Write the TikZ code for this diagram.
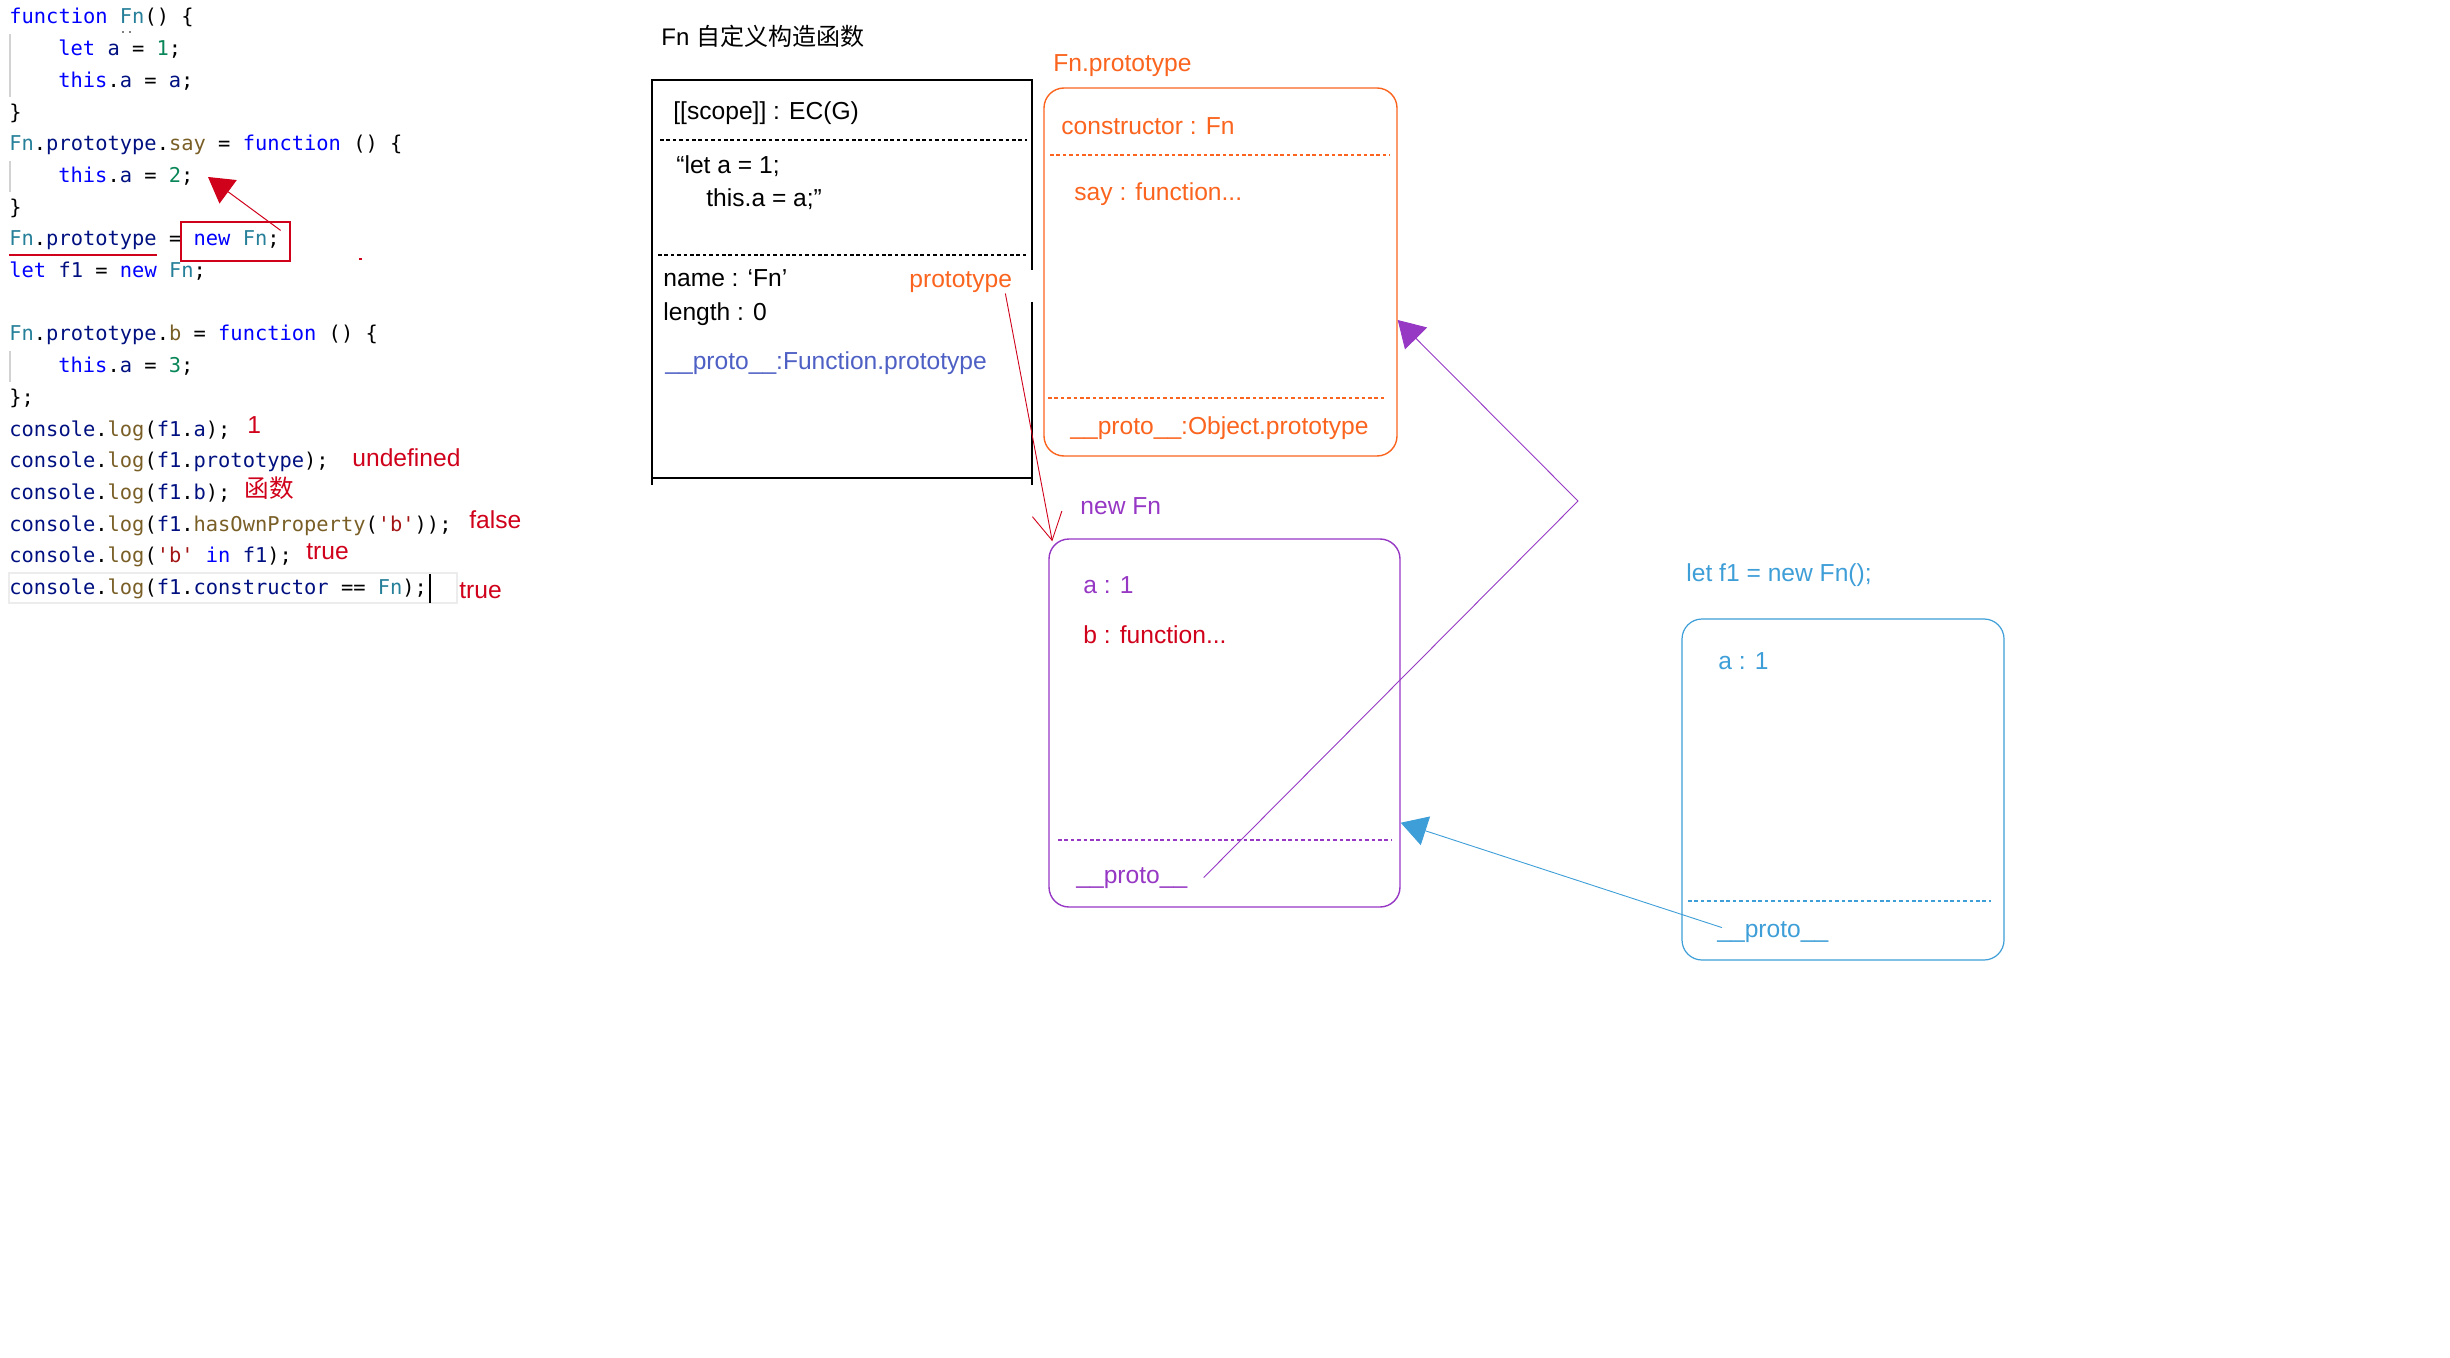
\documentclass[tikz,border=0pt]{standalone}
\usepackage{fontspec}
\setmainfont{Liberation Sans}
\setmonofont{DejaVu Sans Mono}
\newfontfamily\cjk{Noto Sans CJK SC}
\usetikzlibrary{arrows.meta,calc}

\definecolor{jsred}{RGB}{208,2,27}
\definecolor{jsorange}{RGB}{250,100,30}
\definecolor{jspurple}{RGB}{150,56,196}
\definecolor{jsblue}{RGB}{62,158,215}
\definecolor{jsindigo}{RGB}{78,96,196}
\definecolor{kwblue}{RGB}{0,0,255}
\definecolor{tyteal}{RGB}{38,127,153}
\definecolor{varnavy}{RGB}{0,16,128}
\definecolor{funbrown}{RGB}{121,94,38}
\definecolor{numgreen}{RGB}{9,134,88}
\definecolor{strred}{RGB}{163,21,21}

\newcommand\ckw[1]{\textcolor{kwblue}{#1}}
\newcommand\cty[1]{\textcolor{tyteal}{#1}}
\newcommand\cvar[1]{\textcolor{varnavy}{#1}}
\newcommand\cfun[1]{\textcolor{funbrown}{#1}}
\newcommand\cnum[1]{\textcolor{numgreen}{#1}}
\newcommand\cstr[1]{\textcolor{strred}{#1}}
\newcommand\codefont{\fontsize{10.2pt}{12pt}\selectfont\ttfamily}
\newcommand\diagfont{\fontsize{12.3pt}{14pt}\selectfont}

\begin{document}
\begin{tikzpicture}
  [x=0.5pt,y=-0.5pt,
   code/.style={anchor=base west,inner sep=0pt,font=\codefont},
   txt/.style={anchor=base west,inner sep=0pt,font=\diagfont},
   note/.style={txt,text=jsred},
   sep/.style={line width=1.2pt,dash pattern=on 1.8pt off 1.4pt},
   objbox/.style={draw,rounded corners=10pt,line width=0.7pt,inner sep=0pt},
   link/.style={line width=0.45pt}]

  \useasboundingbox (0,0) rectangle (2450,1358);

  % code window
  \draw[gray!15,line width=1pt] (9,573) rectangle (457,603);
  \draw[gray!35,line width=0.8pt] (10,34) -- (10,97);
  \draw[gray!35,line width=0.8pt] (10,161) -- (10,192);
  \draw[gray!35,line width=0.8pt] (10,351) -- (10,382);
  \draw[gray,line width=1pt,dash pattern=on 1pt off 2.5pt] (122,32) -- (134,32);

  \node[code] (l1)  at (9,24)    {\ckw{function} \cty{Fn}() \{};
  \node[code] (l2)  at (58,55.7) {\ckw{let} \cvar{a} = \cnum{1};};
  \node[code] (l3)  at (58,87.4) {\ckw{this}.\cvar{a} = \cvar{a};};
  \node[code] (l4)  at (9,119.1) {\}};
  \node[code] (l5)  at (9,150.8) {\cty{Fn}.\cvar{prototype}.\cfun{say} = \ckw{function} () \{};
  \node[code] (l6)  at (58,182.5) {\ckw{this}.\cvar{a} = \cnum{2};};
  \node[code] (l7)  at (9,214.2) {\}};
  \node[code] (l8)  at (9,245.9) {\cty{Fn}.\cvar{prototype} = \ckw{new} \cty{Fn};};
  \node[code] (l9)  at (9,277.6) {\ckw{let} \cvar{f1} = \ckw{new} \cty{Fn};};
  \node[code] (l11) at (9,341)   {\cty{Fn}.\cvar{prototype}.\cfun{b} = \ckw{function} () \{};
  \node[code] (l12) at (58,372.7) {\ckw{this}.\cvar{a} = \cnum{3};};
  \node[code] (l13) at (9,404.4) {\};};
  \node[code] (l14) at (9,436.1) {\cvar{console}.\cfun{log}(\cvar{f1}.\cvar{a});};
  \node[code] (l15) at (9,467.8) {\cvar{console}.\cfun{log}(\cvar{f1}.\cvar{prototype});};
  \node[code] (l16) at (9,499.5) {\cvar{console}.\cfun{log}(\cvar{f1}.\cvar{b});};
  \node[code] (l17) at (9,531.2) {\cvar{console}.\cfun{log}(\cvar{f1}.\cfun{hasOwnProperty}(\cstr{\textquotesingle b\textquotesingle}));};
  \node[code] (l18) at (9,562.9) {\cvar{console}.\cfun{log}(\cstr{\textquotesingle b\textquotesingle} \ckw{in} \cvar{f1});};
  \node[code] (l19) at (9,594.6) {\cvar{console}.\cfun{log}(\cvar{f1}.\cvar{constructor} == \cty{Fn});};
  \draw[line width=1pt] (430,574) -- (430,603);

  \draw[jsred,line width=0.6pt] (9,255) -- (157,255);
  \fill[jsred] (359,258.5) rectangle (362,260);
  \node[draw=jsred,line width=0.6pt,minimum width=54.5pt,minimum height=19.5pt,inner sep=0pt]
    (newbox) at (235.5,241.5) {};
  \coordinate (saytip) at (208,177);
  \draw[jsred,line width=0.5pt,-{Triangle[length=12.5pt,width=14.5pt]}]
    ([shift={(-5pt,-4.5pt)}]newbox.north east) -- (saytip);

  % results
  \node[note] (r14) at (247,433) {1};
  \node[note] (r15) at (352,466) {undefined};
  \node[note,font=\diagfont\cjk] (r16) at (244,497) {函数};
  \node[note] (r17) at (469,528) {false};
  \node[note] (r18) at (306,559) {true};
  \node[note] (r19) at (459,598) {true};

  % function object Fn
  \node[txt,font=\fontsize{12pt}{14pt}\selectfont] (title) at (661,46) {Fn {\cjk 自定义构造函数}};
  \draw[line width=0.75pt] (1032,270) -- (1032,80) -- (652,80) -- (652,485);
  \draw[line width=0.75pt] (1032,302) -- (1032,485);
  \draw[line width=0.75pt] (652,478) -- (1032,478);
  \draw[sep] (660,140) -- (1027,140);
  \draw[sep] (658,255) -- (1027,255);
  \node[txt] (scope) at (673,120) {[[scope]] : EC(G)};
  \node[txt] (body1) at (676,174) {“let a = 1;};
  \node[txt] (body2) at (706,207) {this.a = a;”};
  \node[txt] (fname) at (663,287) {name : ‘Fn’};
  \node[txt] (flen)  at (663,321) {length : 0};
  \node[txt,text=jsindigo] (fproto) at (665,370) {\_\_proto\_\_:Function.prototype};
  \node[txt,text=jsorange] (protolbl) at (909,288) {prototype};

  % Fn.prototype
  \node[objbox,draw=jsorange,minimum width=176.5pt,minimum height=184pt] (proto) at (1220.5,272) {};
  \node[txt,text=jsorange] (protoname) at (1053,72) {Fn.prototype};
  \node[txt,text=jsorange] (ctor) at (1061,135) {constructor : Fn};
  \draw[sep,jsorange] (1050,155) -- (1390,155);
  \node[txt,text=jsorange] (say) at (1074,201) {say : function...};
  \draw[sep,jsorange] (1048,398) -- (1387,398);
  \node[txt,text=jsorange] (oproto) at (1070,434) {\_\_proto\_\_:Object.prototype};

  % new Fn
  \node[objbox,draw=jspurple,minimum width=175.5pt,minimum height=184pt] (newfn) at (1224.5,723) {};
  \node[txt,text=jspurple] (newname) at (1080,514) {new Fn};
  \node[txt,text=jspurple] (na) at (1083,593) {a : 1};
  \node[txt,text=jsred] (nb) at (1083,643) {b : function...};
  \draw[sep,jspurple] (1058,840) -- (1391,840);
  \node[txt,text=jspurple] (pproto) at (1076,883) {\_\_proto\_\_};

  % f1
  \node[objbox,draw=jsblue,line width=0.6pt,minimum width=161pt,minimum height=170.5pt] (fone) at (1843,789.5) {};
  \node[txt,text=jsblue] (fonename) at (1686,581) {let f1 = new Fn();};
  \node[txt,text=jsblue] (fa) at (1718,669) {a : 1};
  \draw[sep,jsblue] (1688,901) -- (1991,901);
  \node[txt,text=jsblue] (bproto) at (1717,937) {\_\_proto\_\_};

  % links
  \coordinate (peak) at (1578,501);
  \draw[link,jsred,-{Straight Barb[length=13.5pt,width=15pt]}]
    ([xshift=-3.5pt]protolbl.south east) -- ([shift={(2pt,-1.5pt)}]newfn.north west);
  \draw[link,jspurple,-{Triangle[length=13pt,width=15.5pt]}]
    ([xshift=8pt]pproto.east) -- (peak) -- ($(proto.north east)!.63!(proto.south east)$);
  \draw[link,jsblue,-{Triangle[length=13pt,width=15pt]}]
    ([shift={(2.5pt,2pt)}]bproto.west) -- ($(newfn.north east)!.77!(newfn.south east)$);

\end{tikzpicture}
\end{document}
